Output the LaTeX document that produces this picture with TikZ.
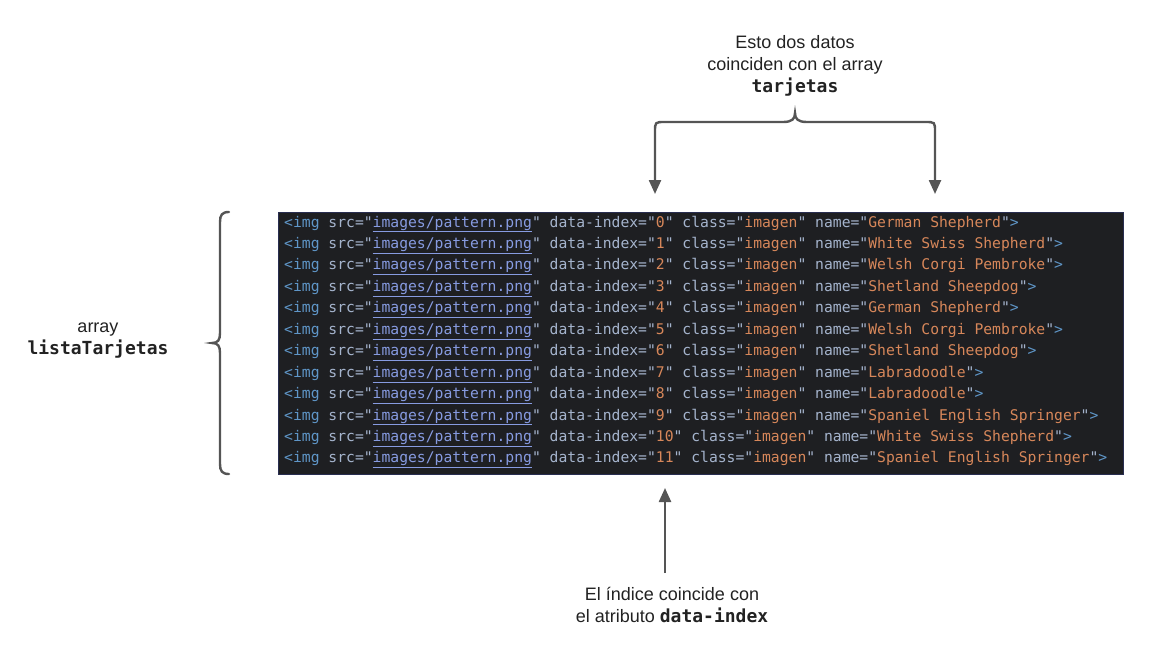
\documentclass[tikz,border=0pt]{standalone}
\usepackage{fontspec}
\setmainfont{Liberation Sans}
\setmonofont{DejaVu Sans Mono}
\usetikzlibrary{arrows.meta}

\definecolor{texto}{RGB}{34,34,34}
\definecolor{linea}{RGB}{85,85,85}
\definecolor{fondo}{RGB}{30,31,34}
\definecolor{borde}{RGB}{40,45,80}
\definecolor{etiq}{RGB}{95,150,200}
\definecolor{atrib}{RGB}{165,180,205}
\definecolor{valor}{RGB}{215,135,90}
\definecolor{enlace}{RGB}{135,155,225}

\newcommand\lineacodigo[2]{\textcolor{etiq}{<img} \textcolor{atrib}{src="}\textcolor{enlace}{\underline{images/pattern.png}}\textcolor{atrib}{"} \textcolor{atrib}{data-index="}\textcolor{valor}{#1}\textcolor{atrib}{"} \textcolor{atrib}{class="}\textcolor{valor}{imagen}\textcolor{atrib}{"} \textcolor{atrib}{name="}\textcolor{valor}{#2}\textcolor{atrib}{"}\textcolor{etiq}{>}}

\begin{document}
\begin{tikzpicture}[x=1pt,y=-1pt,
  etiqueta/.style={font=\fontsize{18}{22}\selectfont,align=center,text=texto},
  flecha/.style={draw=linea,line width=2.4pt,-{Triangle[length=14pt,width=12pt]}},
  llave/.style={draw=linea,line width=2.4pt,line cap=round},
  fila/.style={anchor=base west,inner sep=0pt,font=\fontsize{14.7}{17}\selectfont\ttfamily}]

  \useasboundingbox (0,0) rectangle (1156,661);

  \node[draw=borde,fill=fondo,line width=1pt,minimum width=845pt,minimum height=262pt,
    anchor=north west,inner sep=0pt] (codigo) at (278,212) {};

  \foreach \i/\perro in {0/German Shepherd,1/White Swiss Shepherd,2/Welsh Corgi Pembroke,
      3/Shetland Sheepdog,4/German Shepherd,5/Welsh Corgi Pembroke,6/Shetland Sheepdog,
      7/Labradoodle,8/Labradoodle,9/Spaniel English Springer,10/White Swiss Shepherd,
      11/Spaniel English Springer}
    \node[fila] (fila\i) at (284,{227+21.45*\i}) {\lineacodigo{\i}{\perro}};

  \node[etiqueta] (datos) at (795,66) {Esto dos datos\\coinciden con el array\\\textbf{\texttt{tarjetas}}};
  \node[etiqueta] (lista) at (98,341) {array\\\textbf{\texttt{listaTarjetas}}};
  \node[etiqueta] (indice) at (672,605) {El índice coincide con\\el atributo \textbf{\texttt{data-index}}};

  \coordinate (llaveA) at (655,194);
  \coordinate (llaveB) at (935,194);
  \coordinate (indiceA) at (665,573);
  \coordinate (indiceB) at (665,488);

  % llave de arriba con sus dos flechas
  \draw[llave,{Triangle[length=14pt,width=12pt]}-{Triangle[length=14pt,width=12pt]}]
    (llaveA) -- (655,132) .. controls (655,122) .. (665,122) -- (783,122)
    .. controls (792,122) and (795,119) .. (795,113)
    .. controls (795,119) and (798,122) .. (807,122) -- (925,122)
    .. controls (935,122) .. (935,132) -- (llaveB);

  % llave de la izquierda
  \draw[llave] (229,212) .. controls (222,212) and (220,215) .. (220,222) -- (220,333)
    .. controls (220,340) and (218,343) .. (212,343)
    .. controls (218,343) and (220,346) .. (220,353) -- (220,464)
    .. controls (220,471) and (222,474) .. (229,474);

  \draw[flecha] (indiceA) -- (indiceB);
\end{tikzpicture}
\end{document}
